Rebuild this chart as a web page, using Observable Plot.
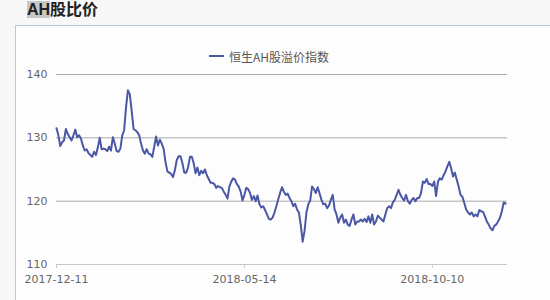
<!DOCTYPE html>
<html>
<head>
<meta charset="utf-8">
<script src="https://cdn.jsdelivr.net/npm/d3@7"></script>
<script src="https://cdn.jsdelivr.net/npm/@observablehq/plot@0.6"></script>
<style>
  html, body { margin: 0; padding: 0; }
  body { width: 550px; height: 300px; position: relative; overflow: hidden; background: #f7f7f7; font-family: "DejaVu Sans", sans-serif; }
  #title { position: absolute; left: 27px; top: 0px; font-family: "Liberation Sans", "Noto Sans CJK SC", sans-serif; font-weight: bold; font-size: 16px; line-height: 19px; color: #222; white-space: nowrap; }
  #title .hl { background: #c8c8c8; }
  #panel { position: absolute; left: 15px; top: 25px; width: 560px; height: 300px; border-left: 1px solid #b9c6dc; border-top: 1px solid #b9c6dc; background: #fdfdfd; }
  #legend { position: absolute; left: 209px; top: 47px; height: 18px; display: flex; align-items: center; font-family: "Noto Sans CJK SC", sans-serif; font-size: 12px; color: #555; white-space: nowrap; }
  #legend .sw { width: 15px; height: 2px; background: #4a58a6; margin-right: 5px; }
  #chart { position: absolute; left: 0; top: 60px; }
</style>
</head>
<body>
<div id="panel"></div>
<div id="title"><span class="hl">AH</span>股比价</div>
<div id="legend"><span class="sw"></span><span id="legendText"></span></div>
<div id="chart"></div>
<script>
const titleText = "AH股比价";
const seriesName = "恒生AH股溢价指数";
const tickIndex = [0, 100, 200];
const tickLabels = ["2017-12-11", "2018-05-14", "2018-10-10"];
const yTicks = [110, 120, 130, 140];
const gridValues = [120, 130, 140];

const values = [
  // Dec 2017 - Feb 2018
  131.5,130.4,128.7,129.3,129.6,131.4,130.6,130.1,129.6,130.4,
  131.3,130.1,130.4,129.9,128.8,128.0,128.2,127.6,127.3,127.0,
  127.8,127.3,128.5,130.0,128.2,128.3,128.2,127.9,128.6,128.0,
  130.1,129.1,127.9,127.8,128.3,130.4,131.2,134.8,137.5,136.9,
  134.3,131.4,131.2,130.9,130.4,129.1,128.0,127.5,
  // Feb - May 2018
  128.2,127.5,127.4,127.0,128.6,130.2,128.8,129.7,129.1,128.3,
  126.2,124.7,124.5,124.3,123.8,124.9,126.5,127.1,127.1,126.0,
  124.5,124.5,125.3,127.0,127.0,126.0,124.4,125.3,124.1,124.8,
  124.4,125.0,124.1,123.5,122.9,122.9,122.7,122.1,122.4,122.2,
  122.1,121.5,121.0,120.4,122.3,123.1,123.6,123.4,
  // May - Jul 2018
  122.7,122.3,121.5,120.1,121.0,122.1,121.9,121.3,120.2,120.8,
  120.0,120.9,119.5,119.0,119.2,118.6,117.9,117.2,117.1,117.4,
  118.2,119.2,120.3,121.3,122.2,121.5,121.0,121.2,120.5,120.0,
  119.2,119.6,118.7,118.2,116.2,113.6,115.3,118.2,119.5,120.1,
  122.3,121.9,121.3,122.2,121.2,120.2,119.5,
  // Jul - Sep 2018
  119.6,118.9,119.3,120.2,121.0,118.7,117.9,116.6,117.4,117.9,
  116.6,117.1,116.3,116.1,117.1,117.9,116.3,116.8,116.8,117.1,
  116.8,117.2,116.7,117.6,116.6,117.9,116.3,116.8,117.7,117.4,
  117.1,116.8,117.9,118.9,119.2,118.9,119.8,120.2,121.0,121.8,
  121.0,120.5,120.1,121.0,120.0,119.6,120.2,120.5,
  // Sep - Dec 2018
  120.0,120.5,120.5,121.3,123.1,122.9,123.5,122.7,122.7,122.4,
  123.1,120.8,123.1,123.6,123.4,124.1,124.7,125.5,126.2,125.2,
  123.9,124.5,123.4,122.3,121.0,120.7,119.7,118.7,118.2,117.9,
  118.2,117.6,117.9,117.6,118.6,118.4,118.3,117.6,116.8,116.3,
  115.7,115.4,116.1,116.3,116.8,117.4,118.4,119.8,119.6
];

document.getElementById("legendText").textContent = seriesName;

const chart = Plot.plot({
  width: 550,
  height: 240,
  marginTop: 14,
  marginBottom: 36,
  marginLeft: 56,
  marginRight: 43,
  style: { fontFamily: "DejaVu Sans, sans-serif", fontSize: "11px", color: "#666", background: "transparent", overflow: "visible" },
  x: { domain: [0, 240] },
  y: { domain: [110, 140] },
  marks: [
    Plot.ruleY(gridValues, { stroke: "#a9a9a9", strokeWidth: 1 }),
    Plot.ruleY([110], { stroke: "#c8c8c8", strokeWidth: 1 }),
    Plot.axisY({ ticks: yTicks, tickSize: 0, tickPadding: 9, label: null, fill: "#666" }),
    Plot.axisX({ ticks: tickIndex, tickSize: 4, tickPadding: 7, stroke: "#c8c8c8", fill: "#666", label: null,
      tickFormat: (d) => tickLabels[tickIndex.indexOf(d)] }),
    Plot.lineY(values, { x: (d, i) => i, y: (d) => d, stroke: "#4a58a6", strokeWidth: 2, curve: "linear" })
  ]
});
document.getElementById("chart").appendChild(chart);
</script>
</body>
</html>
